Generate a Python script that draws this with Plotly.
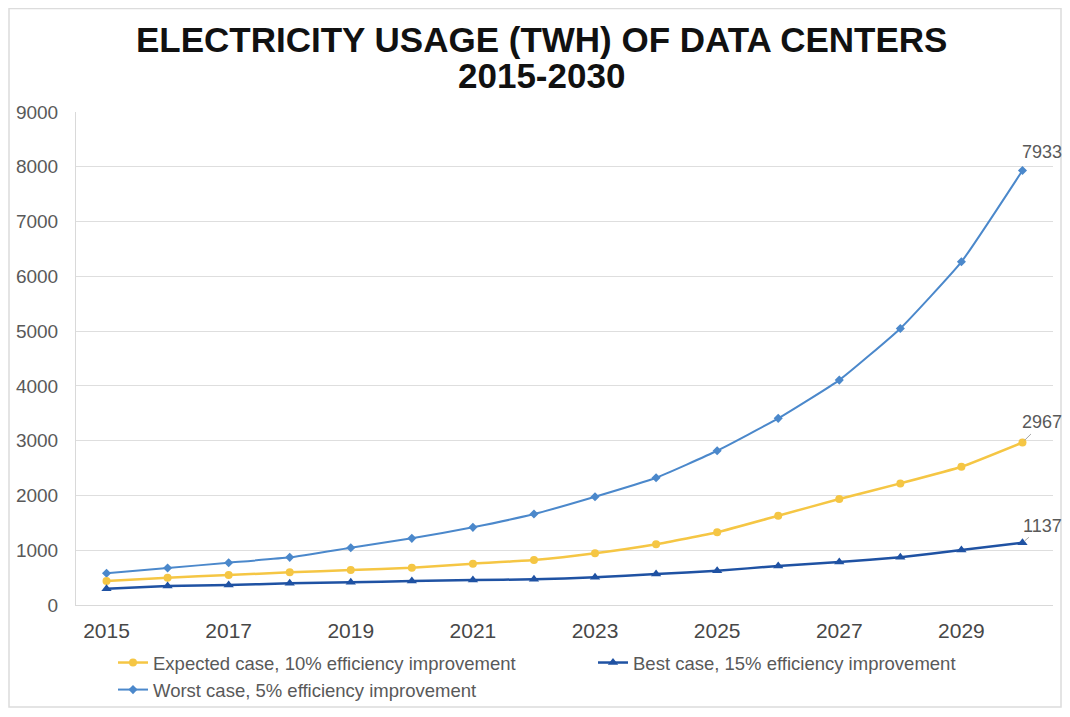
import plotly.graph_objects as go

years = list(range(2015, 2031))
expected = [438, 498, 547, 597, 639, 681, 754, 821, 943, 1108, 1327, 1630, 1934, 2220, 2524, 2967]
best = [298, 347, 365, 396, 414, 438, 456, 469, 505, 566, 626, 712, 785, 870, 1004, 1137]
worst = [580, 675, 772, 870, 1046, 1217, 1418, 1660, 1976, 2323, 2816, 3407, 4106, 5049, 6265, 7933]

names = ["Expected case, 10% efficiency improvement",
         "Best case, 15% efficiency improvement",
         "Worst case, 5% efficiency improvement"]
title_lines = ["ELECTRICITY USAGE (TWH) OF DATA CENTERS", "2015-2030"]
x_ticks = [2015, 2017, 2019, 2021, 2023, 2025, 2027, 2029]
y_ticks = [0, 1000, 2000, 3000, 4000, 5000, 6000, 7000, 8000, 9000]

c_exp = "#f5c644"
c_best = "#1f52a3"
c_worst = "#4b88cb"
FONT = "Liberation Sans, Arial, sans-serif"

# figure geometry (page body has an 8px margin; keep the page from overflowing)
W, H = 1054, 701
L, R, T, B = 68, 1045, 104, 597

fig = go.Figure()
fig.add_trace(go.Scatter(x=years, y=worst, name=names[2], mode="lines+markers",
                         line=dict(color=c_worst, width=2, shape="spline", smoothing=0.4),
                         marker=dict(symbol="diamond", size=7, color=c_worst),
                         legendrank=3))
fig.add_trace(go.Scatter(x=years, y=expected, name=names[0], mode="lines+markers",
                         line=dict(color=c_exp, width=2.5, shape="spline", smoothing=0.4),
                         marker=dict(symbol="circle", size=8, color=c_exp),
                         legendrank=1))
fig.add_trace(go.Scatter(x=years, y=best, name=names[1], mode="lines+markers",
                         line=dict(color=c_best, width=2.5, shape="spline", smoothing=0.4),
                         marker=dict(symbol="triangle-up", size=9, color=c_best),
                         legendrank=2))

lbl_font = dict(family=FONT, size=18, color="#595959")
fig.add_annotation(x=years[-1], y=worst[-1], text=str(worst[-1]), showarrow=False,
                   xshift=20, yshift=18, font=lbl_font)
fig.add_annotation(x=years[-1], y=expected[-1], text=str(expected[-1]), showarrow=True,
                   arrowhead=0, arrowwidth=1, arrowcolor="#a6a6a6", ax=20, ay=-20,
                   standoff=3, font=lbl_font)
fig.add_annotation(x=years[-1], y=best[-1], text=str(best[-1]), showarrow=True,
                   arrowhead=0, arrowwidth=1, arrowcolor="#a6a6a6", ax=20, ay=-17,
                   standoff=3, font=lbl_font)

# title lines
pw, ph = R - L, B - T
def px(x): return (x - L) / pw
def py(y): return (B - y) / ph
for text, ycen in zip(title_lines, (32, 67)):
    fig.add_annotation(xref="paper", yref="paper", x=px(533), y=py(ycen),
                       xanchor="center", yanchor="middle",
                       text="<b>%s</b>" % text, showarrow=False,
                       font=dict(family=FONT, size=35, color="#111111"))

# light outer frame
fig.add_shape(type="rect", xref="paper", yref="paper",
              x0=px(1), x1=px(1053), y0=py(699), y1=py(0.5),
              line=dict(color="#dcdcdc", width=1.5), layer="below")

fig.update_layout(
    width=W, height=H,
    margin=dict(l=L, r=W - R, t=T, b=H - B, autoexpand=False),
    paper_bgcolor="white", plot_bgcolor="white",
    xaxis=dict(range=[2014.5, 2030.5], tickvals=x_ticks, ticktext=[str(v) for v in x_ticks],
               showgrid=False, showline=True, linecolor="#d9d9d9", linewidth=1,
               ticks="", tickfont=dict(family=FONT, size=21, color="#474747"),
               ticklabelstandoff=7, zeroline=False),
    yaxis=dict(range=[0, 9000], tickvals=y_ticks, showgrid=True, gridcolor="#dedede", gridwidth=1,
               showline=True, linecolor="#d9d9d9", linewidth=1, ticks="",
               tickfont=dict(family=FONT, size=19, color="#595959"),
               zeroline=False, ticklabelstandoff=13),
    legend=dict(orientation="h", xref="container", yref="container",
                x=105 / W, xanchor="left", y=(H - 636) / H, yanchor="top",
                font=dict(family=FONT, size=18.5, color="#595959"),
                entrywidth=435, entrywidthmode="pixels", tracegroupgap=0,
                traceorder="normal", bgcolor="rgba(0,0,0,0)"),
    showlegend=True,
)

fig.write_html("out.html")
